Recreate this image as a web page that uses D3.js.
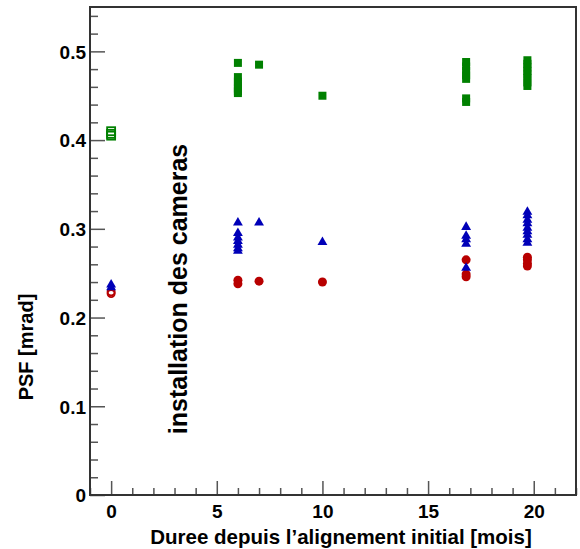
<!DOCTYPE html>
<html>
<head>
<meta charset="utf-8">
<script src="https://cdn.jsdelivr.net/npm/d3@7"></script>
<style>
  body { margin: 0; background: #fff; }
  text { font-family: "Liberation Sans", Arial, sans-serif; font-weight: bold; }
</style>
</head>
<body>
<svg id="canvas"></svg>
<script>
// months since initial alignment, one entry per measurement
const greenMonths = [0, 0, 0, 6, 6, 6, 6, 6, 6, 6, 7, 10, 16.8, 16.8, 16.8, 16.8, 16.8, 16.8, 16.8, 19.7, 19.7, 19.7, 19.7, 19.7, 19.7, 19.7, 19.7];
const greenPsf = [0.410, 0.407, 0.405, 0.487, 0.471, 0.466, 0.462, 0.458, 0.455, 0.453, 0.485, 0.450, 0.488, 0.483, 0.478, 0.473, 0.469, 0.447, 0.443, 0.490, 0.486, 0.482, 0.478, 0.474, 0.470, 0.465, 0.461];

const blueMonths = [0, 0, 6, 6, 6, 6, 6, 6, 6, 7, 10, 16.8, 16.8, 16.8, 16.8, 16.8, 19.7, 19.7, 19.7, 19.7, 19.7, 19.7, 19.7, 19.7, 19.7];
const bluePsf = [0.237, 0.234, 0.307, 0.295, 0.290, 0.286, 0.282, 0.278, 0.275, 0.307, 0.285, 0.302, 0.292, 0.288, 0.283, 0.256, 0.319, 0.315, 0.310, 0.306, 0.301, 0.297, 0.293, 0.288, 0.284];

const redMonths = [0, 0, 6, 6, 7, 10, 16.8, 16.8, 16.8, 19.7, 19.7, 19.7, 19.7];
const redPsf = [0.229, 0.227, 0.242, 0.238, 0.241, 0.240, 0.265, 0.249, 0.246, 0.268, 0.265, 0.261, 0.258];

const xTicks = [0, 5, 10, 15, 20];
const yTicks = [0, 0.1, 0.2, 0.3, 0.4, 0.5];

const width = 580;
const height = 549;
const padLeft = 90, padRight = 576, padTop = 7, padBottom = 495;

const svg = d3.select('#canvas')
    .attr('width', width)
    .attr('height', height);

const x = d3.scaleLinear().domain([-1, 22]).range([padLeft, padRight]);
const y = d3.scaleLinear().domain([0, 0.55]).range([padBottom, padTop]);

// ticks drawn inward, ROOT style
const xMinor = d3.range(-1, 23, 1).filter(v => v % 5 !== 0);
const yMinor = d3.range(0, 56, 2).map(v => v / 100).filter(v => Math.round(v * 100) % 10 !== 0);

const xAxis = svg.append('g').attr('transform', 'translate(0,' + padBottom + ')');
xAxis.call(d3.axisBottom(x).tickValues(xTicks).tickSize(-14).tickPadding(10).tickFormat(d3.format('d')));
xAxis.append('g').call(d3.axisBottom(x).tickValues(xMinor).tickSize(-7).tickFormat(''));

const yAxis = svg.append('g').attr('transform', 'translate(' + padLeft + ',0)');
yAxis.call(d3.axisLeft(y).tickValues(yTicks).tickSize(-15).tickPadding(4).tickFormat(d => d === 0 ? '0' : d3.format('.1f')(d)));
yAxis.append('g').call(d3.axisLeft(y).tickValues(yMinor).tickSize(-8).tickFormat(''));

svg.selectAll('.domain').remove();
svg.selectAll('.tick line').attr('stroke', '#555').attr('stroke-width', 1.5);
svg.selectAll('.tick text').attr('fill', '#000').style('font-size', '19px');
yAxis.selectAll('.tick text').attr('dy', '0.36em');

// frame
svg.append('rect')
    .attr('x', padLeft).attr('y', padTop)
    .attr('width', padRight - padLeft).attr('height', padBottom - padTop)
    .attr('fill', 'none').attr('stroke', '#333').attr('stroke-width', 2);

// green squares (first date drawn open)
svg.append('g').selectAll('rect')
    .data(greenPsf)
    .enter()
    .append('rect')
    .attr('x', (d, i) => x(greenMonths[i]) - 4)
    .attr('y', d => y(d) - 4)
    .attr('width', 8).attr('height', 8)
    .attr('fill', (d, i) => greenMonths[i] === 0 ? 'none' : '#008000')
    .attr('stroke', '#008000')
    .attr('stroke-width', (d, i) => greenMonths[i] === 0 ? 1.8 : 0);

// red circles
svg.append('g').selectAll('circle')
    .data(redPsf)
    .enter()
    .append('circle')
    .attr('cx', (d, i) => x(redMonths[i]))
    .attr('cy', d => y(d))
    .attr('r', (d, i) => redMonths[i] === 0 ? 3.6 : 4.5)
    .attr('fill', (d, i) => redMonths[i] === 0 ? 'none' : '#b80000')
    .attr('stroke', '#b80000')
    .attr('stroke-width', (d, i) => redMonths[i] === 0 ? 1.8 : 0);

// blue triangles
const tri = d3.symbol().type(d3.symbolTriangle).size(42);
svg.append('g').selectAll('path')
    .data(bluePsf)
    .enter()
    .append('path')
    .attr('d', tri)
    .attr('transform', (d, i) => 'translate(' + x(blueMonths[i]) + ',' + y(d) + ')')
    .attr('fill', '#0000b8');

svg.append('text')
    .attr('transform', 'translate(187,289) rotate(-90)')
    .attr('text-anchor', 'middle')
    .style('font-size', '25px')
    .text('installation des cameras');

svg.append('text')
    .attr('x', 341).attr('y', 544)
    .attr('text-anchor', 'middle')
    .style('font-size', '20.5px')
    .text('Duree depuis l\u2019alignement initial [mois]');

svg.append('text')
    .attr('transform', 'translate(33,347) rotate(-90)')
    .attr('text-anchor', 'middle')
    .style('font-size', '20px')
    .text('PSF [mrad]');
</script>
</body>
</html>
